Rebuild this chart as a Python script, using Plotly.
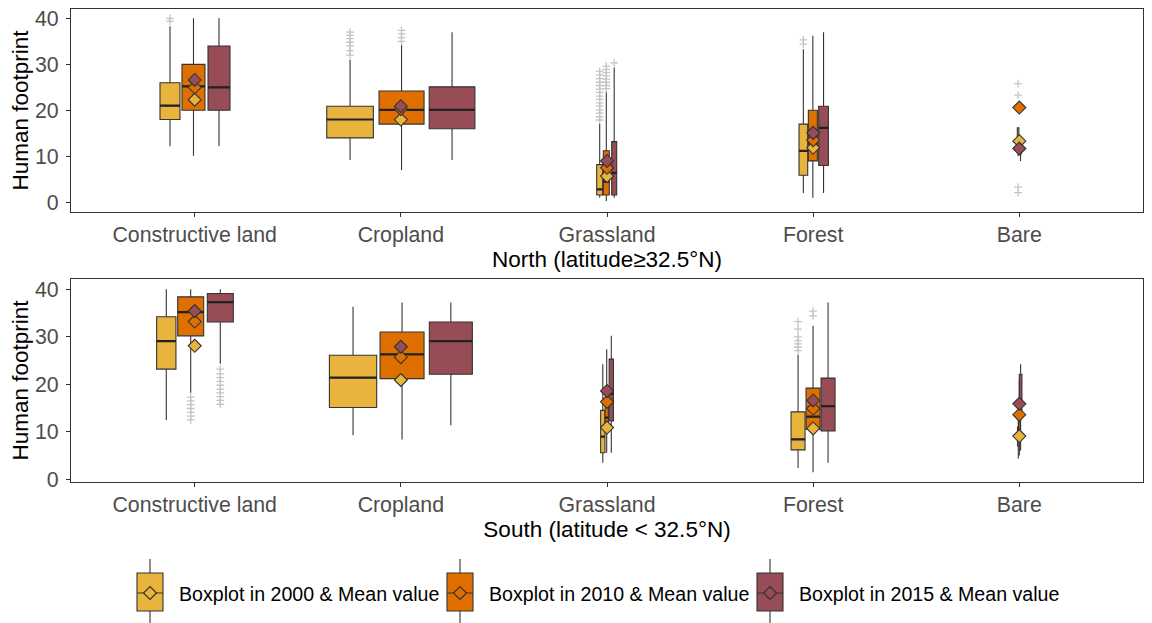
import plotly.graph_objects as go

# ---------------- DATA ----------------
CATEGORIES = ["Constructive land", "Cropland", "Grassland", "Forest", "Bare"]
YEARS = ["2000", "2010", "2015"]
LEGEND_LABELS = ["Boxplot in 2000 & Mean value", "Boxplot in 2010 & Mean value",
                 "Boxplot in 2015 & Mean value"]
Y_TICKS = [0, 10, 20, 30, 40]
NORTH_TITLE = "North (latitude≥32.5°N)"
SOUTH_TITLE = "South (latitude < 32.5°N)"
Y_TITLE = "Human footprint"

# North panel (per year, values per category)
NORTH_LOWER = {"2000": [12.2, 9.2, 1.0, 2.0, 10.0],
               "2010": [10.1, 7.0, 0.3, 1.0, 19.8],
               "2015": [12.2, 9.2, 1.0, 2.0, 9.0]}
NORTH_Q1 = {"2000": [18.0, 14.0, 1.6, 5.9, 12.5],
            "2010": [20.0, 17.0, 1.6, 9.0, 20.2],
            "2015": [20.0, 16.0, 1.6, 8.0, 10.5]}
NORTH_MEDIAN = {"2000": [21.0, 18.0, 2.8, 11.2, 13.3],
                "2010": [25.2, 20.1, 4.5, 13.0, 20.6],
                "2015": [25.0, 20.1, 6.4, 16.2, 11.5]}
NORTH_Q3 = {"2000": [26.0, 20.9, 8.2, 17.0, 16.2],
            "2010": [30.0, 24.2, 11.2, 20.0, 21.0],
            "2015": [34.0, 25.1, 13.2, 20.9, 12.5]}
NORTH_UPPER = {"2000": [38.3, 31.0, 17.1, 33.3, 16.2],
               "2010": [40.0, 34.3, 24.2, 36.2, 21.4],
               "2015": [40.0, 37.0, 29.3, 37.0, 14.0]}
NORTH_MEAN = {"2000": [22.3, 18.0, 5.7, 11.9, 13.3],
              "2010": [25.0, 20.3, 7.5, 13.5, 20.6],
              "2015": [26.6, 20.9, 9.0, 15.1, 11.7]}
NORTH_OUTLIERS = {
    "2000": [[39.4, 40.0],
             [32.0, 33.0, 34.0, 34.8, 35.6, 36.3, 37.0],
             [17.9, 18.6, 19.4, 20.1, 20.9, 21.6, 22.4, 23.1, 23.9, 24.6, 25.4, 26.1, 26.9, 27.7, 28.5],
             [34.4, 35.3],
             [2.1, 3.3, 23.3, 25.8]],
    "2010": [[], [35.0, 35.8, 36.6, 37.4],
             [24.7, 25.4, 26.1, 26.8, 27.5, 28.2, 28.9, 29.6],
             [], []],
    "2015": [[], [], [30.3], [], []],
}

# South panel
SOUTH_LOWER = {"2000": [12.5, 9.3, 3.5, 2.4, 4.4],
               "2010": [18.2, 8.4, 5.6, 1.5, 5.0],
               "2015": [24.3, 11.4, 5.6, 3.5, 6.0]}
SOUTH_Q1 = {"2000": [23.2, 15.1, 5.6, 6.2, 7.0],
            "2010": [30.2, 21.2, 10.2, 10.5, 10.0],
            "2015": [33.1, 22.1, 12.3, 10.2, 13.3]}
SOUTH_MEDIAN = {"2000": [29.1, 21.4, 9.0, 8.4, 9.0],
                "2010": [35.2, 26.3, 13.0, 13.2, 13.0],
                "2015": [37.3, 29.1, 18.0, 15.4, 16.0]}
SOUTH_Q3 = {"2000": [34.2, 26.1, 14.5, 14.2, 11.0],
            "2010": [38.4, 31.0, 16.5, 19.2, 16.0],
            "2015": [39.1, 33.1, 25.3, 21.3, 22.1]}
SOUTH_UPPER = {"2000": [40.0, 36.3, 24.2, 26.2, 14.0],
               "2010": [40.0, 37.2, 27.4, 32.3, 21.0],
               "2015": [40.0, 37.2, 30.2, 37.2, 24.2]}
SOUTH_MEAN = {"2000": [28.1, 20.9, 10.9, 10.7, 9.1],
              "2010": [33.2, 25.7, 16.3, 14.9, 13.6],
              "2015": [35.4, 27.9, 18.6, 16.6, 15.9]}
SOUTH_OUTLIERS = {
    "2000": [[], [], [], [27.1, 27.8, 28.5, 29.2, 30.0, 31.6, 33.2], []],
    "2010": [[12.5, 13.3, 14.1, 14.9, 15.7, 16.5, 17.3], [], [], [34.4, 35.4], []],
    "2015": [[15.8, 16.6, 17.4, 18.2, 19.0, 19.8, 20.6, 21.4, 22.2, 23.2], [], [], [], []],
}

# ---------------- LAYOUT / STYLE ----------------
COLORS = {"2000": "#E8B43E", "2010": "#DF7000", "2015": "#974C56"}
BOX_LINE = "#333333"
MEDIAN_LINE = "#222222"
OUTLIER_COLOR = "#C4C4C4"
TICK_COLOR = "#4D4D4D"
FONT = "Liberation Sans, Arial, sans-serif"
FS_TICK = 21.3
FS_TITLE = 22.5
FS_LEGEND = 19.6

X_RANGE = [0.4, 5.6]
PX_PER_UNIT = 1072 / 5.2

# dodge offsets (px from category centre) and box widths (px), varwidth look
NORTH_OFFSET_PX = {"2000": [-24.7, -50.8, -7.3, -9.8, -1.2],
                   "2010": [-1.2, 0.7, -0.7, -0.3, 0.0],
                   "2015": [24.3, 51.2, 7.2, 10.4, 1.2]}
NORTH_WIDTH_PX = {"2000": [20, 46.6, 6, 8.7, 1.6],
                  "2010": [23, 45, 6, 9, 1.0],
                  "2015": [22, 45.7, 5, 9.7, 1.6]}
SOUTH_OFFSET_PX = {"2000": [-28.4, -47.8, -4.2, -15.1, -1.0],
                   "2010": [-4.0, 1.2, -0.3, -0.1, 0.0],
                   "2015": [25.6, 50.0, 4.3, 14.9, 1.3]}
SOUTH_WIDTH_PX = {"2000": [19.3, 47.3, 4.3, 14, 1.6],
                  "2010": [26, 44, 3.3, 14, 1.6],
                  "2015": [26, 43, 4.3, 14, 2.6]}

fig = go.Figure()


def add_panel(xa, ya, lower, q1, med, q3, upper, mean, outliers, offs, wids):
    for yr in YEARS:
        mx, my = [], []
        for ci, _cat in enumerate(CATEGORIES):
            pos = ci + 1 + offs[yr][ci] / PX_PER_UNIT
            w = wids[yr][ci] / PX_PER_UNIT
            fig.add_trace(go.Box(
                x=[pos], q1=[q1[yr][ci]], median=[med[yr][ci]], q3=[q3[yr][ci]],
                lowerfence=[lower[yr][ci]], upperfence=[upper[yr][ci]],
                width=w, fillcolor=COLORS[yr],
                line=dict(color=BOX_LINE, width=1.1), whiskerwidth=0,
                xaxis=xa, yaxis=ya, showlegend=False, hoverinfo="skip"))
            mx += [pos - w / 2, pos + w / 2, None]
            my += [med[yr][ci], med[yr][ci], None]
            pts = outliers[yr][ci]
            if pts:
                fig.add_trace(go.Scatter(
                    x=[pos] * len(pts), y=pts, mode="markers",
                    marker=dict(symbol="cross-thin", size=5.5,
                                line=dict(color=OUTLIER_COLOR, width=1.3)),
                    xaxis=xa, yaxis=ya, showlegend=False, hoverinfo="skip"))
        # thicker median bars (ggplot style)
        fig.add_trace(go.Scatter(x=mx, y=my, mode="lines",
                                 line=dict(color=MEDIAN_LINE, width=2.2),
                                 xaxis=xa, yaxis=ya, showlegend=False, hoverinfo="skip"))
    for yr in YEARS:
        fig.add_trace(go.Scatter(
            x=list(range(1, len(CATEGORIES) + 1)), y=mean[yr], mode="markers",
            marker=dict(symbol="diamond", size=10, color=COLORS[yr],
                        line=dict(color=BOX_LINE, width=1.1)),
            xaxis=xa, yaxis=ya, showlegend=False, hoverinfo="skip"))


add_panel("x", "y", NORTH_LOWER, NORTH_Q1, NORTH_MEDIAN, NORTH_Q3, NORTH_UPPER,
          NORTH_MEAN, NORTH_OUTLIERS, NORTH_OFFSET_PX, NORTH_WIDTH_PX)
add_panel("x2", "y2", SOUTH_LOWER, SOUTH_Q1, SOUTH_MEDIAN, SOUTH_Q3, SOUTH_UPPER,
          SOUTH_MEAN, SOUTH_OUTLIERS, SOUTH_OFFSET_PX, SOUTH_WIDTH_PX)

# ---------------- custom legend keys (own invisible axis, pixel-like units) ----------------
LEG_KEY_X = [79, 389, 699]
LEG_TEXT_X = [106, 416, 726]
for i, yr in enumerate(YEARS):
    fig.add_trace(go.Box(
        x=[LEG_KEY_X[i]], q1=[13], median=[31], q3=[51], lowerfence=[0], upperfence=[65],
        width=26, fillcolor=COLORS[yr], line=dict(color=BOX_LINE, width=1.1),
        whiskerwidth=0, xaxis="x3", yaxis="y3", showlegend=False, hoverinfo="skip"))
    fig.add_trace(go.Scatter(
        x=[LEG_KEY_X[i]], y=[31], mode="markers",
        marker=dict(symbol="diamond", size=10, color=COLORS[yr],
                    line=dict(color=BOX_LINE, width=1.1)),
        xaxis="x3", yaxis="y3", showlegend=False, hoverinfo="skip"))
    fig.add_annotation(x=LEG_TEXT_X[i], y=30, xref="x3", yref="y3", text=LEGEND_LABELS[i],
                       showarrow=False, xanchor="left", yanchor="middle",
                       font=dict(family=FONT, size=FS_LEGEND, color="#000000"))

xcommon = dict(range=X_RANGE, tickmode="array", tickvals=list(range(1, len(CATEGORIES) + 1)),
               ticktext=CATEGORIES, ticks="outside", ticklen=4, tickwidth=1.2,
               tickcolor="#333333", showline=True, mirror=True, linecolor="#333333",
               linewidth=1.3, showgrid=False, zeroline=False, automargin=False,
               tickfont=dict(family=FONT, size=FS_TICK, color=TICK_COLOR))
ycommon = dict(tickmode="array", tickvals=Y_TICKS, ticks="outside", ticklen=4, tickwidth=1.2,
               tickcolor="#333333", showline=True, mirror=True, linecolor="#333333",
               linewidth=1.3, showgrid=False, zeroline=False, ticklabelstandoff=3,
               automargin=False, ticklabeloverflow="allow",
               tickfont=dict(family=FONT, size=FS_TICK, color=TICK_COLOR),
               title=dict(text=Y_TITLE, font=dict(family=FONT, size=FS_TITLE, color="#000000"),
                          standoff=10))

# the page body has an 8px margin: plot area is placed so that it lands at
# x 71..1143 / y ~9..624 of the browser window
fig.update_layout(
    width=1152, height=623,
    margin=dict(l=63, r=17, t=1, b=7),
    paper_bgcolor="white", plot_bgcolor="white",
    font=dict(family=FONT),
    showlegend=False,
    boxmode="overlay",
    xaxis=dict(domain=[0, 1], anchor="y", **xcommon,
               title=dict(text=NORTH_TITLE, font=dict(family=FONT, size=FS_TITLE, color="#000000"),
                          standoff=0)),
    yaxis=dict(domain=[0.6704, 0.9995], anchor="x", range=[-2.04, 41.96], **ycommon),
    xaxis2=dict(domain=[0, 1], anchor="y2", **xcommon,
                title=dict(text=SOUTH_TITLE, font=dict(family=FONT, size=FS_TITLE, color="#000000"),
                           standoff=0)),
    yaxis2=dict(domain=[0.2314, 0.5605], anchor="x2", range=[-0.5, 42.1], **ycommon),
    xaxis3=dict(domain=[0, 1], anchor="y3", range=[0, 1072], visible=False, fixedrange=True),
    yaxis3=dict(domain=[0, 0.122], anchor="x3", range=[0, 75], visible=False, fixedrange=True),
)

fig.write_html("out.html")
